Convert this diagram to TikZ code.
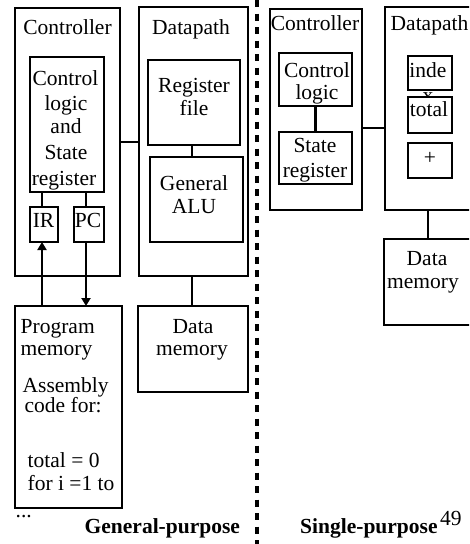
\documentclass[tikz,border=0pt]{standalone}
\usepackage{fontspec}
\setmainfont{Liberation Serif}
\usetikzlibrary{arrows.meta,fit}
\tikzset{
  box/.style={draw, line width=2.2pt, fill=white, inner sep=0pt, outer sep=0pt},
  wire/.style={line width=2.2pt},
  arrowwire/.style={line width=2.2pt, -{Triangle[length=8pt,width=9pt]}},
  txt/.style={inner sep=0pt, anchor=base, font=\fontsize{21.5}{26}\selectfont},
  ltxt/.style={txt, anchor=base west},
  btxt/.style={ltxt, font=\fontsize{21.5}{26}\selectfont\bfseries},
  divider/.style={line width=4pt, dash pattern=on 7pt off 6.5pt}
}
\begin{document}
\begin{tikzpicture}[x=1pt,y=-1pt]
\useasboundingbox (0,0) rectangle (469,544);
\clip (0,0) rectangle (469,544);

% ---------- general-purpose processor ----------
\node[box, fit={(15,8) (120,276)}] (gctrl) {};
\node[box, fit={(139,7) (248,276)}] (gdp) {};
\node[box, fit={(30,57) (104,192)}] (gclog) {};
\node[box, fit={(30,207) (58,242)}] (ir) {};
\node[box, fit={(74,207) (104,242)}] (pc) {};
\node[box, fit={(148,60) (240,145)}] (regf) {};
\node[box, fit={(150,157) (243,242)}] (alu) {};
\node[box, fit={(15,306) (122,508)}] (pmem) {};
\node[box, fit={(138,306) (248,392)}] (gdmem) {};

\coordinate (irx) at (42,0);
\coordinate (pcx) at (86,0);
\coordinate (dpx) at (192,0);

\draw[wire] (gctrl.east) -- (gctrl.east -| gdp.west);
\draw[wire] (gclog.south -| irx) -- (ir.north -| irx);
\draw[wire] (gclog.south -| pcx) -- (pc.north -| pcx);
\draw[arrowwire] (pmem.north -| irx) -- (ir.south -| irx);
\draw[arrowwire] (pc.south -| pcx) -- (pmem.north -| pcx);
\draw[wire] (regf.south -| dpx) -- (alu.north -| dpx);
\draw[wire] (gdp.south -| dpx) -- (gdmem.north -| dpx);

\node[txt] (t1) at (67.5,34) {Controller};
\node[txt] (t2) at (191,34) {Datapath};
\node[txt] (t3) at (65.5,85) {Control};
\node[txt] (t4) at (66,110) {logic};
\node[txt] (t5) at (66,133.5) {and};
\node[txt] (t6) at (66,159) {State};
\node[txt] (t7) at (64,185) {register};
\node[txt] (t8) at (43.5,227) {IR};
\node[txt] (t9) at (88,227) {PC};
\node[txt] (t10) at (194,92) {Register};
\node[txt] (t11) at (194,115) {file};
\node[txt] (t12) at (194,190) {General};
\node[txt] (t13) at (194,213) {ALU};
\node[ltxt] (t14) at (20.5,333) {Program};
\node[ltxt] (t15) at (20.5,355) {memory};
\node[txt] (t16) at (193,333) {Data};
\node[txt] (t17) at (192,355) {memory};
\node[ltxt] (t18) at (22.5,392) {Assembly};
\node[ltxt] (t19) at (24.5,412) {code for:};
\node[ltxt] (t20) at (27.5,467) {total = 0};
\node[ltxt] (t21) at (27.5,490) {for i =1 to};
\node[ltxt] (t22) at (15.5,517) {...};
\node[btxt] (t23) at (84.5,533) {General-purpose};

% ---------- divider ----------
\coordinate (dtop) at (257,0);
\coordinate (dbot) at (257,544);
\draw[divider] (dtop) -- (dbot);

% ---------- single-purpose processor ----------
\node[box, fit={(270,9) (362,210)}] (sctrl) {};
\node[box, fit={(385,7) (500,210)}] (sdp) {};
\node[box, fit={(279,53) (352,106)}] (sclog) {};
\node[box, fit={(279,132) (352,184)}] (sstate) {};
\node[box, fit={(408,56) (452,90)}] (index) {};
\node[txt] (s7) at (428,102) {x};
\node[box, fit={(408,97) (452,133)}] (total) {};
\node[box, fit={(408,143) (452,178)}] (plus) {};
\node[box, fit={(384,239) (500,325)}] (sdmem) {};

\coordinate (cy) at (0,128);
\coordinate (sdx) at (428,0);
\draw[wire] (sclog.south) -- (sstate.north);
\draw[wire] (sctrl.east |- cy) -- (sdp.west |- cy);
\draw[wire] (sdp.south -| sdx) -- (sdmem.north -| sdx);

\node[txt] (s1) at (315,30) {Controller};
\node[ltxt] (s2) at (390.5,30) {Datapath};
\node[txt] (s3) at (317,77) {Control};
\node[txt] (s4) at (317,99.5) {logic};
\node[txt] (s5) at (315,152) {State};
\node[txt] (s6) at (315,177) {register};
\node[txt] (s8) at (428,77) {inde};
\node[txt] (s9) at (429,116) {total};
\node[inner sep=0pt, font=\fontsize{21.5}{26}\selectfont] (s10) at (430,158) {+};
\node[txt] (s11) at (427,265) {Data};
\node[txt] (s12) at (423,288) {memory};
\node[btxt] (s13) at (300,533) {Single-purpose};
\node[ltxt] (s14) at (440,525) {49};
\end{tikzpicture}
\end{document}
